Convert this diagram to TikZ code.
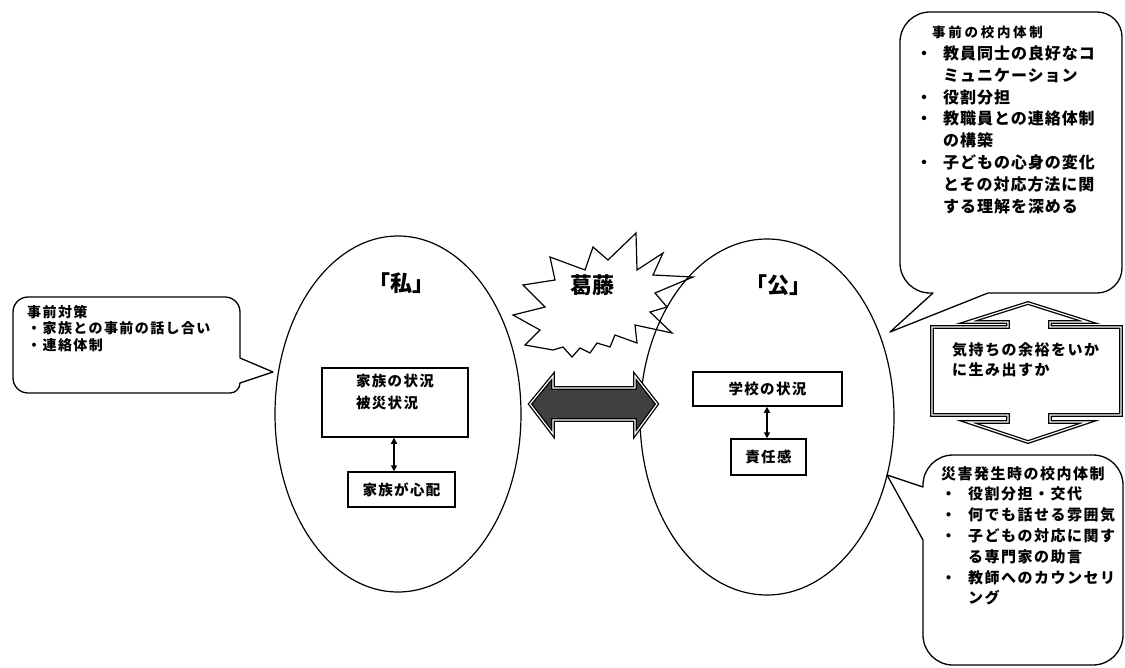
\documentclass[tikz,border=0pt]{standalone}
\usepackage{fontspec}
\newfontfamily\jp{Noto Sans CJK JP}
\newcommand\trheadfont{\fontsize{13.5}{21.8}\selectfont\addfontfeatures{LetterSpace=20}}
\usetikzlibrary{shapes.geometric,arrows.meta}
\begin{document}
\begin{tikzpicture}[x=1pt,y=-1pt,
  oval/.style={draw, ellipse, line width=1.2pt, inner sep=0pt},
  callout/.style={draw, line width=1.3pt, line join=round, fill=white},
  boxnode/.style={draw, line width=1.5pt, inner sep=0pt, align=left,
    font=\jp\bfseries\fontsize{14.5}{22}\selectfont\addfontfeatures{LetterSpace=9}},
  title/.style={inner sep=0pt, font=\jp\bfseries\fontsize{22}{26}\selectfont},
  trtext/.style={inner sep=0pt, anchor=north west, align=left,
    font=\jp\bfseries\fontsize{16}{21.8}\selectfont\addfontfeatures{LetterSpace=6}},
  brtext/.style={inner sep=0pt, anchor=north west, align=left,
    font=\jp\bfseries\fontsize{15}{20.8}\selectfont\addfontfeatures{LetterSpace=10}},
  lttext/.style={inner sep=0pt, anchor=north west, align=left,
    font=\jp\bfseries\fontsize{14}{16.5}\selectfont\addfontfeatures{LetterSpace=10}},
  dbl/.style={draw, line width=1.3pt, double=white, double distance=1.2pt, line join=miter},
  tip/.style={line width=1.5pt, {Triangle[length=6pt,width=6pt]}-{Triangle[length=6pt,width=6pt]}}
]
\useasboundingbox (0,0) rectangle (1125,667);
\fill[white] (0,0) rectangle (1125,667);

% two ellipses
\node[oval, minimum width=246pt, minimum height=356pt] (priv) at (398,414) {};
\node[oval, minimum width=254pt, minimum height=356pt] (pub) at (767,417) {};

\node[title] (privt) at (401,283) {「私」};
\node[title] (pubt) at (778,285) {「公」};

% conflict starburst
\draw[line width=1.2pt, line join=miter]
  (513,315) -- (545,307) -- (523,285) -- (555,280) -- (550,257) -- (585,270)
  -- (593,247) -- (608,260) -- (636,233) -- (637,270) -- (663,253) -- (653,275)
  -- (693,277) -- (655,293) -- (667,307) -- (650,312) -- (672,333) -- (635,325)
  -- (637,343) -- (615,335) -- (610,347) -- (597,343) -- (590,353) -- (580,348)
  -- (572,357) -- (563,347) -- (553,350) -- (525,345) -- (540,330) -- cycle;
\node[title] (conf) at (592,285) {葛藤};

% horizontal double arrow
\draw[dbl, fill=black!75]
  (530,404) -- (553,376) -- (553,388) -- (635,388) -- (635,376) -- (657,404)
  -- (635,434) -- (635,420) -- (553,420) -- (553,434) -- cycle;

% boxes in the private ellipse
\node[boxnode, minimum width=146pt, minimum height=69pt] (fam) at (395,402.5)
  {家族の状況\\被災状況\\\mbox{}};
\node[boxnode, minimum width=107pt, minimum height=35pt] (worry) at (401.5,489.5) {家族が心配};
\draw[tip] (fam.south -| 394,0) -- (worry.north -| 394,0);

% boxes in the public ellipse
\node[boxnode, minimum width=149pt, minimum height=34pt] (school) at (767.5,389) {学校の状況};
\node[boxnode, minimum width=75pt, minimum height=36pt] (resp) at (768.5,457) {責任感};
\draw[tip] (school.south -| 767,0) -- (resp.north -| 767,0);

% left callout
\draw[callout] (240,358) -- (273,372) -- (240,383)
  arc[start angle=0, end angle=90, radius=10] -- (28,393)
  arc[start angle=90, end angle=180, radius=15] -- (13,312)
  arc[start angle=180, end angle=270, radius=15] -- (225,297)
  arc[start angle=270, end angle=360, radius=15] -- cycle;
\node[lttext] (lt) at (27,305) {事前対策\\・家族との事前の話し合い\\・連絡体制};

% top right callout
\draw[callout] (933,293) -- (890,332) -- (988,293) -- (1097,293)
  arc[start angle=90, end angle=0, radius=25] -- (1122,37)
  arc[start angle=0, end angle=-90, radius=25] -- (930,12)
  arc[start angle=-90, end angle=-180, radius=30] -- (900,263)
  arc[start angle=180, end angle=90, radius=30] -- cycle;
\node[trtext] (tr) at (916,26) {\hspace*{16pt}{\trheadfont 事前の校内体制}\\
\makebox[27pt][l]{・}教員同士の良好なコ\\
\hspace*{27pt}ミュニケーション\\
\makebox[27pt][l]{・}役割分担\\
\makebox[27pt][l]{・}教職員との連絡体制\\
\hspace*{27pt}の構築\\
\makebox[27pt][l]{・}子どもの心身の変化\\
\hspace*{27pt}とその対応方法に関\\
\hspace*{27pt}する理解を深める};

% middle box with up/down arrows
\draw[dbl, fill=white]
  (932,327) -- (1008,327) -- (1008,322) -- (968,322) -- (1028,303) -- (1088,322)
  -- (1050,322) -- (1050,327) -- (1121,327) -- (1121,415) -- (1050,415)
  -- (1050,422) -- (1088,422) -- (1028,442) -- (968,422) -- (1008,422)
  -- (1008,415) -- (932,415) -- cycle;
\node[brtext] (mid) at (952,342) {気持ちの余裕をいか\\に生み出すか};

% bottom right callout
\draw[callout] (923,540) -- (887,475) -- (923,487) -- (923,485)
  arc[start angle=180, end angle=270, radius=30] -- (1093,455)
  arc[start angle=270, end angle=360, radius=30] -- (1123,635)
  arc[start angle=0, end angle=90, radius=30] -- (953,665)
  arc[start angle=90, end angle=180, radius=30] -- cycle;
\node[brtext] (br) at (941,466) {災害発生時の校内体制\\
\makebox[27pt][l]{・}役割分担・交代\\
\makebox[27pt][l]{・}何でも話せる雰囲気\\
\makebox[27pt][l]{・}子どもの対応に関す\\
\hspace*{27pt}る専門家の助言\\
\makebox[27pt][l]{・}教師へのカウンセリ\\
\hspace*{27pt}ング};
\end{tikzpicture}
\end{document}
